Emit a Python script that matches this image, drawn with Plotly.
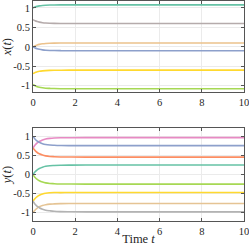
import plotly.graph_objects as go
from plotly.subplots import make_subplots

t = [0, 0.1, 0.2, 0.3, 0.45, 0.6, 0.8, 1.0, 1.3, 1.7, 2.5, 10]

# x(t) series
x_green = [1.00, 1.025, 1.042, 1.054, 1.066, 1.072, 1.076, 1.078, 1.079, 1.08, 1.08, 1.08]
x_gray = [0.70, 0.67, 0.65, 0.636, 0.622, 0.613, 0.607, 0.604, 0.6015, 0.6005, 0.60, 0.60]
x_tan = [0.00, 0.03, 0.05, 0.064, 0.078, 0.087, 0.093, 0.096, 0.0985, 0.0995, 0.10, 0.10]
x_blue = [0.00, -0.03, -0.05, -0.064, -0.078, -0.087, -0.093, -0.096, -0.0985, -0.0995, -0.10, -0.10]
x_yellow = [-0.69, -0.66, -0.643, -0.63, -0.618, -0.611, -0.606, -0.603, -0.601, -0.6005, -0.60, -0.60]
x_lime = [-0.97, -1.003, -1.025, -1.04, -1.055, -1.064, -1.07, -1.074, -1.077, -1.079, -1.08, -1.08]

# y(t) series
y_pink = [0.70, 0.78, 0.835, 0.87, 0.91, 0.935, 0.952, 0.961, 0.967, 0.969, 0.97, 0.97]
y_blue = [1.00, 0.93, 0.88, 0.846, 0.813, 0.792, 0.777, 0.77, 0.764, 0.761, 0.76, 0.76]
y_orange = [0.70, 0.63, 0.58, 0.546, 0.513, 0.492, 0.477, 0.47, 0.464, 0.461, 0.46, 0.46]
y_teal = [0.00, 0.075, 0.125, 0.16, 0.195, 0.218, 0.233, 0.24, 0.246, 0.249, 0.25, 0.25]
y_lime = [0.00, -0.075, -0.125, -0.16, -0.195, -0.218, -0.233, -0.24, -0.246, -0.249, -0.25, -0.25]
y_yellow = [-0.70, -0.63, -0.58, -0.545, -0.51, -0.49, -0.477, -0.47, -0.474, -0.47, -0.47, -0.47]
y_tan = [-1.00, -0.93, -0.88, -0.846, -0.813, -0.792, -0.777, -0.77, -0.764, -0.761, -0.76, -0.76]
y_gray = [-0.70, -0.78, -0.835, -0.87, -0.91, -0.935, -0.952, -0.965, -0.974, -0.978, -0.98, -0.98]

x_series = [(x_green, "#66c2a5"), (x_gray, "#b5abab"), (x_tan, "#ecc28c"),
            (x_blue, "#8da0cb"), (x_yellow, "#ffd92f"), (x_lime, "#a6d854")]
y_series = [(y_pink, "#e78ac3"), (y_blue, "#8da0cb"), (y_orange, "#fc8d62"),
            (y_teal, "#66c2a5"), (y_lime, "#a6d854"), (y_yellow, "#ffd92f"),
            (y_tan, "#e5c494"), (y_gray, "#b3b3b3")]

xticks = [0, 2, 4, 6, 8, 10]
yticks = [-1, -0.5, 0, 0.5, 1]
ytext = ["-1", "-0.5", "0", "0.5", "1"]

SERIF = "Liberation Serif"

fig = make_subplots(rows=2, cols=1)
for vals, c in x_series:
    fig.add_trace(go.Scatter(x=t, y=vals, mode="lines", line=dict(color=c, width=1.6, shape="spline"),
                             showlegend=False, hoverinfo="skip"), row=1, col=1)
for vals, c in y_series:
    fig.add_trace(go.Scatter(x=t, y=vals, mode="lines", line=dict(color=c, width=1.6, shape="spline"),
                             showlegend=False, hoverinfo="skip"), row=2, col=1)

font = dict(family=SERIF, size=10.5, color="#262626")
title_font = dict(family=SERIF, size=12.5, color="#262626")
axis_common = dict(showline=True, linecolor="#555555", linewidth=1, mirror="allticks",
                   ticks="inside", ticklen=3, tickcolor="#555555",
                   showgrid=True, gridcolor="#ebebeb", gridwidth=1, zeroline=False,
                   tickfont=font, automargin=False, ticklabeloverflow="allow")

fig.update_xaxes(**axis_common, range=[0, 10], tickvals=xticks)
fig.update_yaxes(**axis_common, tickvals=yticks, ticktext=ytext)
fig.update_xaxes(domain=[0, 1], row=1, col=1)
fig.update_xaxes(domain=[0, 1], row=2, col=1,
                 title=dict(text="Time <i>t</i>", font=title_font, standoff=0))
fig.update_yaxes(domain=[0.585, 1], range=[-1.17, 1.18], row=1, col=1,
                 title=dict(text="<i>x</i>(<i>t</i>)", font=title_font, standoff=4))
fig.update_yaxes(domain=[0, 0.422], range=[-1.22, 1.22], row=2, col=1,
                 title=dict(text="<i>y</i>(<i>t</i>)", font=title_font, standoff=4))

fig.update_layout(width=249, height=246, autosize=False, margin=dict(l=33, r=5, t=1, b=25, autoexpand=False),
                  plot_bgcolor="white", paper_bgcolor="white", font=font, hovermode=False)
fig.write_html("out.html", config={"displayModeBar": False, "responsive": False},
               post_script="document.body.style.margin='0';document.body.style.overflow='hidden';")
